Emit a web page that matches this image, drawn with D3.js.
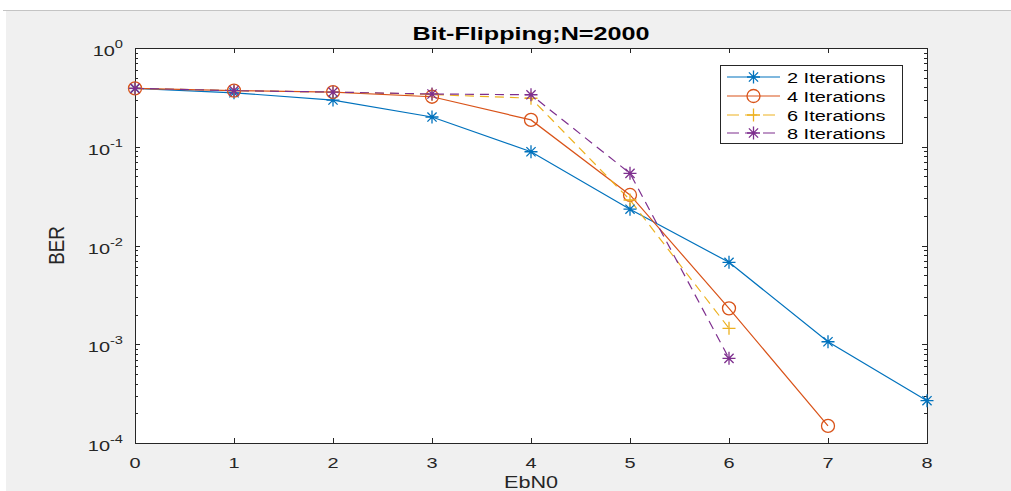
<!DOCTYPE html>
<html><head><meta charset="utf-8">
<script src="https://cdn.jsdelivr.net/npm/d3@7"></script>
<style>
html,body{margin:0;padding:0;background:#fff;}
svg{display:block;}
text{font-family:"Liberation Sans",Arial,Helvetica,sans-serif;}
</style></head>
<body>
<svg id="chart" width="1011" height="491"></svg>
<script>
const ebn0 = [0,1,2,3,4,5,6,7,8];
const iter2 = [0.39,0.352,0.297,0.200,0.089,0.0233,0.00676,0.00106,0.000268];
const iter4 = [0.39,0.37,0.358,0.321,0.187,0.0325,0.00231,0.000149];
const iter6 = [0.39,0.37,0.358,0.338,0.31,0.0289,0.00145];
const iter8 = [0.39,0.37,0.358,0.342,0.336,0.0538,0.00072];
const seriesNames = ["2 Iterations","4 Iterations","6 Iterations","8 Iterations"];
const xTicks = [0,1,2,3,4,5,6,7,8];
const yTickExps = [0,-1,-2,-3,-4];
const titleText = "Bit-Flipping;N=2000";
const xLabel = "EbN0";
const yLabel = "BER";

const svg = d3.select("#chart");
const W=1011,H=491;
const SX=1.33; // horizontal stretch of the reference rendering
svg.append("rect").attr("x",0).attr("y",0).attr("width",W).attr("height",H).attr("fill","#ffffff");
svg.append("rect").attr("x",6).attr("y",10).attr("width",W-6).attr("height",H-10).attr("fill","#f0f0f0");
svg.append("line").attr("x1",3).attr("x2",W).attr("y1",10.5).attr("y2",10.5).attr("stroke","#c4c4c4").attr("stroke-width",1);

const L=135,R=927,T=48,B=443;
const x = d3.scaleLinear().domain([0,8]).range([L,R]);
const y = d3.scaleLog().domain([1e-4,1]).range([B,T]);

svg.append("rect").attr("x",L).attr("y",T).attr("width",R-L).attr("height",B-T).attr("fill","#fff");

const axisColor="#262626";
const tl=5;
function sText(parent,px,py,anchor,size,sx){
  const gg = parent.append("g").attr("transform",`translate(${px},${py}) scale(${sx||SX},1)`);
  return gg.append("text").attr("x",0).attr("y",0).attr("text-anchor",anchor).attr("font-size",size);
}
const g = svg.append("g");
xTicks.forEach(v=>{
  const px = Math.round(x(v))+0.5;
  g.append("line").attr("x1",px).attr("x2",px).attr("y1",B).attr("y2",B-tl).attr("stroke",axisColor);
  g.append("line").attr("x1",px).attr("x2",px).attr("y1",T).attr("y2",T+tl).attr("stroke",axisColor);
  sText(g,x(v),468,"middle",15).attr("fill",axisColor).text(v);
});
yTickExps.forEach(e=>{
  const py = Math.round(y(Math.pow(10,e)))+0.5;
  g.append("line").attr("x1",L).attr("x2",L+tl).attr("y1",py).attr("y2",py).attr("stroke",axisColor);
  g.append("line").attr("x1",R).attr("x2",R-tl).attr("y1",py).attr("y2",py).attr("stroke",axisColor);
  const t = sText(g,123,py+7,"end",15).attr("fill",axisColor);
  t.append("tspan").text("10");
  t.append("tspan").attr("dy",-8).attr("font-size",11).text(e);
  if(e<0){
    for(let m=2;m<=9;m++){
      const yy = Math.round(y(m*Math.pow(10,e)))+0.5;
      g.append("line").attr("x1",L).attr("x2",L+3).attr("y1",yy).attr("y2",yy).attr("stroke",axisColor);
      g.append("line").attr("x1",R).attr("x2",R-3).attr("y1",yy).attr("y2",yy).attr("stroke",axisColor);
    }
  }
});
svg.append("rect").attr("x",L+0.5).attr("y",T+0.5).attr("width",R-L).attr("height",B-T).attr("fill","none").attr("stroke",axisColor).attr("stroke-width",1);

sText(svg,531,40,"middle",18,1.4).attr("font-weight","bold").attr("fill","#000").text(titleText);
sText(svg,531,488,"middle",16,1.35).attr("fill",axisColor).text(xLabel);
svg.append("text").attr("transform",`translate(64,${(T+B)/2}) rotate(-90) scale(1.1,1.35)`).attr("text-anchor","middle").attr("font-size",17).attr("fill",axisColor).text(yLabel);

const colors=["#0072BD","#D95319","#EDB120","#7E2F8E"];
const dashes=[null,null,"9,6","9,6"];
const markers=["star","circle","plus","star"];
const data=[iter2,iter4,iter6,iter8];

function drawMarker(sel,type,cx,cy,col){
  if(type==="circle"){
    sel.append("circle").attr("cx",cx).attr("cy",cy).attr("r",6.5).attr("fill","none").attr("stroke",col).attr("stroke-width",1.3);
  } else if(type==="plus"){
    const s=6.5;
    sel.append("path").attr("d",`M${cx-s},${cy}H${cx+s}M${cx},${cy-s}V${cy+s}`).attr("stroke",col).attr("stroke-width",1.3).attr("fill","none");
  } else {
    const s=6.5, d=4.6;
    sel.append("path").attr("d",`M${cx-s},${cy}H${cx+s}M${cx},${cy-s}V${cy+s}M${cx-d},${cy-d}L${cx+d},${cy+d}M${cx-d},${cy+d}L${cx+d},${cy-d}`).attr("stroke",col).attr("stroke-width",1.3).attr("fill","none");
  }
}

const line = d3.line().x((d,i)=>x(ebn0[i])).y(d=>y(d));
const plot = svg.append("g");
data.forEach((s,k)=>{
  plot.append("path").datum(s).attr("d",line).attr("fill","none").attr("stroke",colors[k]).attr("stroke-width",1.2)
    .attr("stroke-dasharray",dashes[k]);
});
data.forEach((s,k)=>{
  s.forEach((v,i)=>drawMarker(plot,markers[k],x(ebn0[i]),y(v),colors[k]));
});

const lg = svg.append("g");
lg.append("rect").attr("x",720.5).attr("y",65.5).attr("width",182).attr("height",78).attr("fill","#fff").attr("stroke",axisColor).attr("stroke-width",1);
const ly=[77,96,115,133];
seriesNames.forEach((n,k)=>{
  lg.append("line").attr("x1",727).attr("x2",780).attr("y1",ly[k]).attr("y2",ly[k]).attr("stroke",colors[k]).attr("stroke-width",1.2).attr("stroke-dasharray",dashes[k]?"12,6":null);
  drawMarker(lg,markers[k],753.5,ly[k],colors[k]);
  sText(lg,787,ly[k]+6,"start",15,1.33).attr("fill","#000").text(n);
});
</script>
</body></html>
